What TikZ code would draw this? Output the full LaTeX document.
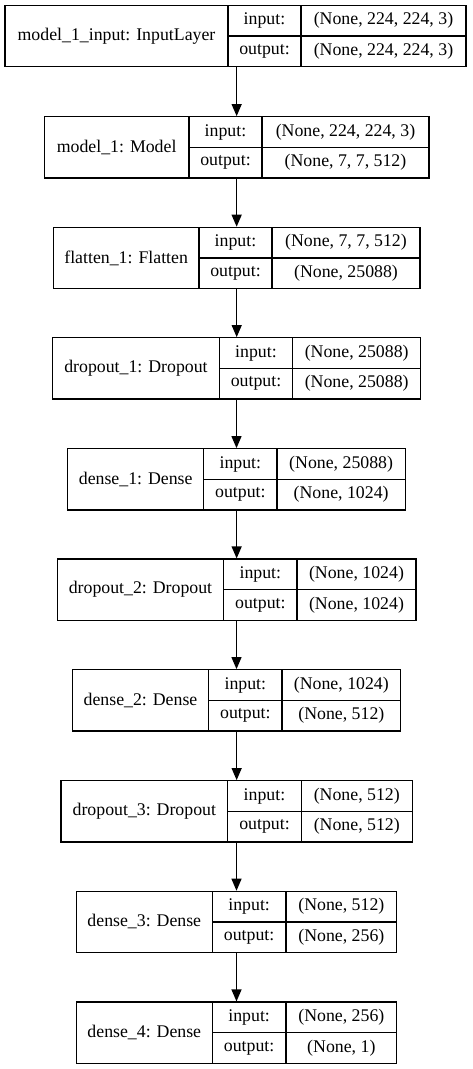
\documentclass[tikz,border=0pt]{standalone}
\usepackage{fontspec}
\setmainfont{Liberation Serif}
\usetikzlibrary{arrows.meta}

% One Keras layer record: id, caption, left x, split 1, split 2, right x, top y, input shape, output shape
\newcommand\layerrecord[9]{%
  \node[recbox, minimum width={#6pt-#3pt}] (#1) at ({(#3+#6)/2},{#7+30.65}) {};
  \draw[cell] (#4,#7) -- (#4,#7+61.3);
  \draw[cell] (#5,#7) -- (#5,#7+61.3);
  \draw[cell] (#4,#7+30.65) -- (#6,#7+30.65);
  \node[txt] (#1n)  at ({(#3+#4)/2},{#7+30.65}) {#2};
  \node[txt] (#1il) at ({(#4+#5)/2},{#7+15.3}) {input:};
  \node[txt] (#1iv) at ({(#5+#6)/2},{#7+15.3}) {#8};
  \node[txt] (#1ol) at ({(#4+#5)/2},{#7+46.0}) {output:};
  \node[txt] (#1ov) at ({(#5+#6)/2},{#7+46.0}) {#9};
}

\begin{document}
\begin{tikzpicture}[x=1pt,y=-1pt,
  recbox/.style={draw, line width=1.2pt, minimum height=61.3pt, inner sep=0pt},
  cell/.style={line width=1.2pt},
  txt/.style={inner sep=0pt, font=\fontsize{17.8}{20}\selectfont},
  flow/.style={line width=1.2pt, -{Triangle[length=12pt,width=10pt]}}]
  \useasboundingbox (0,0) rectangle (473,1069);

  \layerrecord{l1}{model\_1\_input: InputLayer}{5}{228}{301}{466}{5.3}{(None, 224, 224, 3)}{(None, 224, 224, 3)}
  \layerrecord{l2}{model\_1: Model}{44.3}{189}{262}{429}{116.7}{(None, 224, 224, 3)}{(None, 7, 7, 512)}
  \layerrecord{l3}{flatten\_1: Flatten}{53.3}{199}{272}{420}{227.3}{(None, 7, 7, 512)}{(None, 25088)}
  \layerrecord{l4}{dropout\_1: Dropout}{52.7}{219.3}{292.7}{420.7}{337.7}{(None, 25088)}{(None, 25088)}
  \layerrecord{l5}{dense\_1: Dense}{67.7}{203.7}{277}{405.3}{448.7}{(None, 25088)}{(None, 1024)}
  \layerrecord{l6}{dropout\_2: Dropout}{57.3}{223.7}{297}{416}{559}{(None, 1024)}{(None, 1024)}
  \layerrecord{l7}{dense\_2: Dense}{72.3}{208.7}{282}{400.7}{669.7}{(None, 1024)}{(None, 512)}
  \layerrecord{l8}{dropout\_3: Dropout}{61}{227.7}{301.3}{412.3}{780.7}{(None, 512)}{(None, 512)}
  \layerrecord{l9}{dense\_3: Dense}{76.3}{212.3}{286}{396.7}{891.3}{(None, 512)}{(None, 256)}
  \layerrecord{l10}{dense\_4: Dense}{76.3}{212.3}{286}{396.7}{1002}{(None, 256)}{(None, 1)}

  \foreach \a/\b in {l1/l2, l2/l3, l3/l4, l4/l5, l5/l6, l6/l7, l7/l8, l8/l9, l9/l10}
    \draw[flow] (\a.south -| \b.north) -- (\b.north);
\end{tikzpicture}
\end{document}
